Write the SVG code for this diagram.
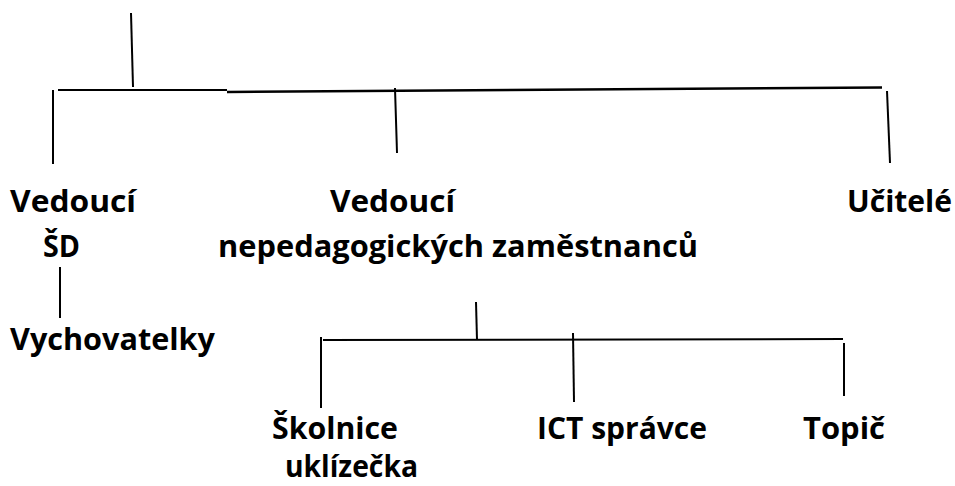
<svg xmlns="http://www.w3.org/2000/svg" width="955" height="486" viewBox="0 0 955 486">
<style>
.l{stroke:#000;stroke-width:2;fill:none;stroke-linecap:butt}
.t{font-family:"Open Sans","Liberation Sans","DejaVu Sans",sans-serif;font-weight:bold;font-size:30px;fill:#000}
</style>
<rect width="955" height="486" fill="#fff"/>
<g id="connectors">
<line class="l" x1="131" y1="13" x2="133" y2="87"/>
<line class="l" x1="58" y1="90" x2="227" y2="90"/>
<line class="l" x1="227" y1="92" x2="882" y2="87.5" style="stroke-width:2.5"/>
<line class="l" x1="53" y1="90" x2="53" y2="164"/>
<line class="l" x1="395" y1="88" x2="397" y2="153"/>
<line class="l" x1="887" y1="91" x2="890" y2="163"/>
<line class="l" x1="60" y1="267" x2="60" y2="318"/>
<line class="l" x1="476" y1="302" x2="477" y2="340"/>
<line class="l" x1="323" y1="340" x2="843" y2="339"/>
<line class="l" x1="321" y1="337" x2="321" y2="408"/>
<line class="l" x1="573" y1="333" x2="574" y2="402"/>
<line class="l" x1="844" y1="343" x2="844" y2="396"/>
</g>
<g id="vedouci-sd">
<text class="t" x="10" y="212" textLength="126" lengthAdjust="spacingAndGlyphs">Vedoucí</text>
<text class="t" x="43" y="257" textLength="37" lengthAdjust="spacingAndGlyphs">ŠD</text>
</g>
<g id="vychovatelky">
<text class="t" x="10" y="350" textLength="205" lengthAdjust="spacingAndGlyphs">Vychovatelky</text>
</g>
<g id="vedouci-nepedagogickych">
<text class="t" x="330" y="212" textLength="125" lengthAdjust="spacingAndGlyphs">Vedoucí</text>
<text class="t" x="218" y="257" textLength="480" lengthAdjust="spacingAndGlyphs">nepedagogických zaměstnanců</text>
</g>
<g id="ucitele">
<text class="t" x="847" y="212" textLength="105" lengthAdjust="spacingAndGlyphs">Učitelé</text>
</g>
<g id="skolnice">
<text class="t" x="272" y="439" textLength="126" lengthAdjust="spacingAndGlyphs">Školnice</text>
<text class="t" x="285" y="477" textLength="133" lengthAdjust="spacingAndGlyphs">uklízečka</text>
</g>
<g id="ict">
<text class="t" x="537" y="439" textLength="170" lengthAdjust="spacingAndGlyphs">ICT správce</text>
</g>
<g id="topic">
<text class="t" x="803" y="439" textLength="82" lengthAdjust="spacingAndGlyphs">Topič</text>
</g>
</svg>
